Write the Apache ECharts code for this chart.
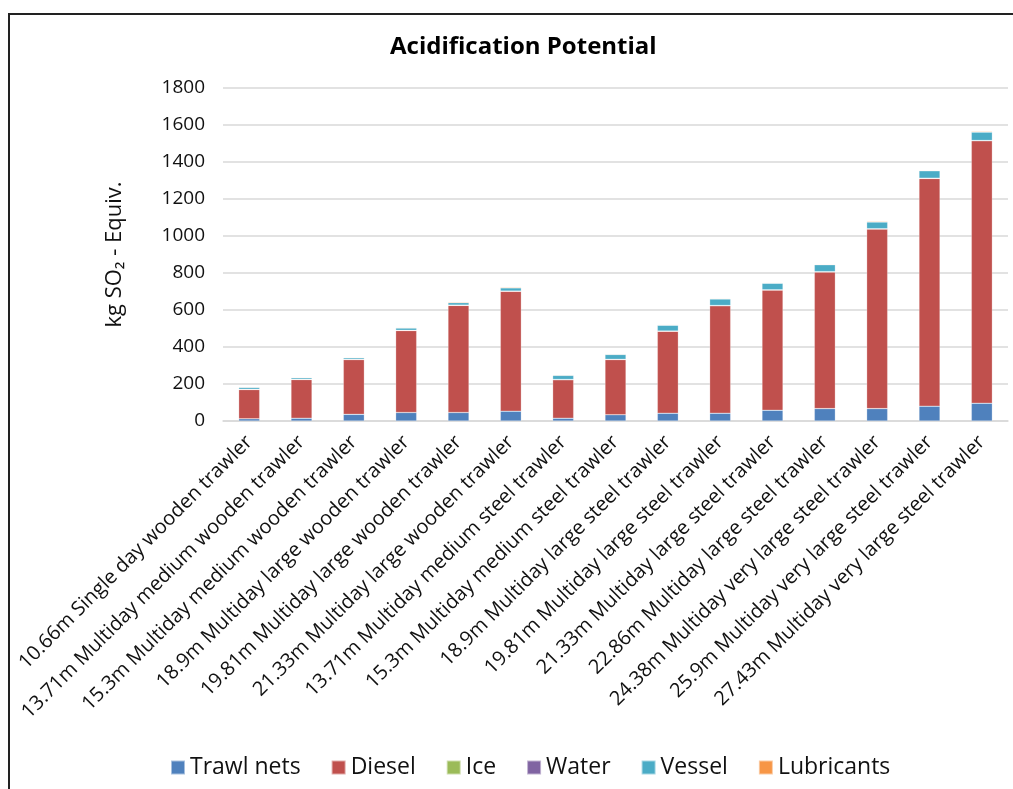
<!DOCTYPE html>
<html>
<head>
<meta charset="utf-8">
<script src="https://cdn.jsdelivr.net/npm/echarts@6/dist/echarts.min.js"></script>
<style>
  html, body { margin: 0; padding: 0; background: #fff; }
  #frame { position: absolute; left: 8px; top: 13px; width: 1020px; height: 800px; border-left: 2px solid #222; border-top: 2px solid #222; }
  #main { position: absolute; left: 0; top: 0; width: 1013px; height: 789px; }
</style>
</head>
<body>
<div id="frame"></div>
<div id="main"></div>
<script>
var categories = [
  '10.66m Single day wooden trawler',
  '13.71m Multiday medium wooden trawler',
  '15.3m Multiday medium wooden trawler',
  '18.9m Multiday large wooden trawler',
  '19.81m Multiday large wooden trawler',
  '21.33m Multiday large wooden trawler',
  '13.71m Multiday medium steel trawler',
  '15.3m Multiday medium steel trawler',
  '18.9m Multiday large steel trawler',
  '19.81m Multiday large steel trawler',
  '21.33m Multiday large steel trawler',
  '22.86m Multiday large steel trawler',
  '24.38m Multiday very large steel trawler',
  '25.9m Multiday very large steel trawler',
  '27.43m Multiday very large steel trawler'
];
var trawlNets = [12, 15, 36, 46, 46, 53, 15, 34, 42, 42, 58, 67, 67, 80, 96];
var diesel = [158, 209, 296, 443, 579, 648, 208, 298, 443, 581, 650, 739, 971, 1231, 1419];
var ice = [1, 1, 1, 1, 1, 1, 1, 1, 1, 1, 1, 1, 1, 1, 1];
var water = [0.5, 0.5, 0.5, 0.5, 0.5, 0.5, 0.5, 0.5, 0.5, 0.5, 0.5, 0.5, 0.5, 0.5, 0.5];
var vessel = [10, 8, 8, 12, 13, 17, 22, 26, 31, 35, 35, 37, 36, 40, 45];
var lubricants = [3, 3, 3, 3, 4, 4, 3, 3, 3, 3, 3, 3, 4, 3, 4];
var yTicks = [0, 200, 400, 600, 800, 1000, 1200, 1400, 1600, 1800];

var seriesNames = ['Trawl nets', 'Diesel', 'Ice', 'Water', 'Vessel', 'Lubricants'];
var seriesData = [trawlNets, diesel, ice, water, vessel, lubricants];
var colors = ['#4F81BD', '#C0504D', '#9BBB59', '#8064A2', '#4BACC6', '#F79646'];

var chart = echarts.init(document.getElementById('main'));
var font = "'Open Sans', sans-serif";

var option = {
  color: colors,
  animation: false,
  title: {
    text: 'Acidification Potential',
    left: 385,
    top: 30,
    textStyle: { fontFamily: font, fontSize: 24, fontWeight: 'bold', color: '#000' }
  },
  legend: {
    bottom: 5,
    left: 165,
    itemWidth: 14,
    itemHeight: 14,
    itemGap: 30,
    icon: 'rect',
    textStyle: { fontFamily: font, fontSize: 23, color: '#111' },
    data: seriesNames
  },
  grid: {
    left: 223,
    right: 5,
    top: 88,
    bottom: 368
  },
  xAxis: {
    type: 'category',
    data: categories,
    axisLine: { show: true, lineStyle: { color: '#d9d9d9', width: 1.5 } },
    axisTick: { show: false },
    axisLabel: {
      interval: 0,
      rotate: 45,
      fontFamily: font,
      fontSize: 20,
      color: '#111',
      margin: 18
    }
  },
  yAxis: {
    type: 'value',
    min: yTicks[0],
    max: yTicks[yTicks.length - 1],
    interval: 200,
    name: 'kg SO\u2082 - Equiv.',
    nameLocation: 'middle',
    nameGap: 97,
    nameRotate: 90,
    nameTextStyle: { fontFamily: font, fontSize: 22, color: '#111' },
    axisLine: { show: false },
    axisTick: { show: false },
    axisLabel: {
      fontFamily: font, fontSize: 19, color: '#111', margin: 18,
      formatter: function (v) { return String(v); }
    },
    splitLine: { lineStyle: { color: '#d9d9d9', width: 1.5 } }
  },
  series: seriesNames.map(function (name, i) {
    return {
      name: name,
      type: 'bar',
      stack: 'total',
      barWidth: 21,
      itemStyle: { borderColor: 'rgba(255,255,255,0.5)', borderWidth: 0.5 },
      data: seriesData[i]
    };
  })
};

chart.setOption(option);
</script>
</body>
</html>
